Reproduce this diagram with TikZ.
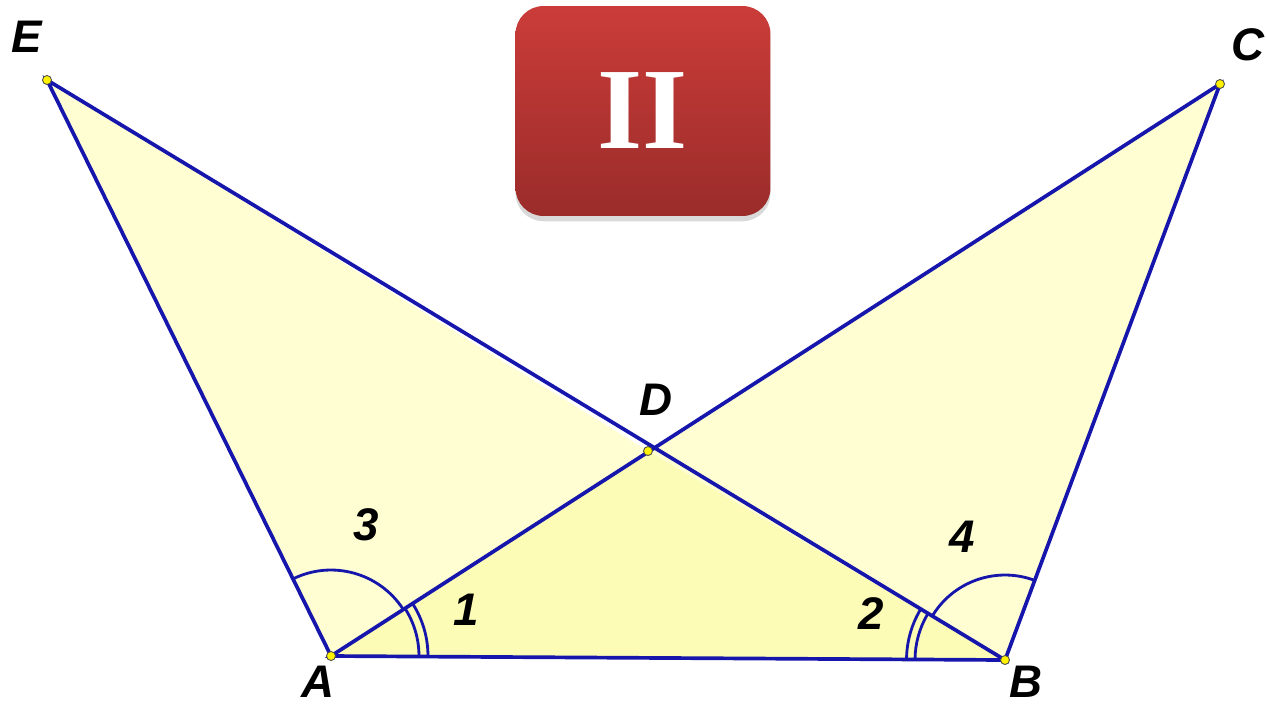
\documentclass[tikz,border=0pt]{standalone}
\usepackage{fontspec}
\setmainfont{Liberation Sans}
\newfontfamily\badgefont{Liberation Serif}
\usepackage{xcolor}
\usetikzlibrary{angles,shadows,calc}

\definecolor{lineblue}{RGB}{22,22,172}
\definecolor{paleyel}{RGB}{254,254,210}
\definecolor{deepyel}{RGB}{252,252,182}
\definecolor{badgetop}{RGB}{203,60,57}
\definecolor{badgebot}{RGB}{154,44,42}

\tikzset{
  pt/.style={circle, fill=yellow, draw=black!70, line width=0.5pt, inner sep=0pt, minimum size=0.18cm},
  lbl/.style={inner sep=0pt, font=\fontsize{26}{26}\selectfont\bfseries\itshape},
  side/.style={draw=lineblue, line width=2.1pt},
  anglemark/.style={draw=lineblue, line width=1.6pt}
}

\begin{document}
\begin{tikzpicture}[x=0.02cm, y=-0.02cm]
    \useasboundingbox (0,0) rectangle (1266,707);
    % points
    \coordinate (E) at (47,80);
    \coordinate (C) at (1220,84);
    \coordinate (D) at (648,451);
    \coordinate (A) at (331,656);
    \coordinate (B) at (1005,660);
    % fills
    \fill[paleyel] (A) -- (E) -- (D) -- cycle;
    \fill[paleyel] (B) -- (C) -- (D) -- cycle;
    \fill[deepyel] (A) -- (B) -- (D) -- cycle;
    % sides
    \draw[side] (A) -- (E) -- (B) -- (C) -- (A) -- (B);
    % angle marks
    \pic[anglemark, angle radius=1.72cm] {angle = D--A--E};
    \pic[anglemark, angle radius=1.76cm] {angle = B--A--D};
    \pic[anglemark, angle radius=1.94cm] {angle = B--A--D};
    \pic[anglemark, angle radius=1.70cm] {angle = C--B--D};
    \pic[anglemark, angle radius=1.80cm] {angle = D--B--A};
    \pic[anglemark, angle radius=1.97cm] {angle = D--B--A};
    % dots
    \foreach \p in {A,B,C,D,E}
        \node[pt] (dot\p) at (\p) {};
    % labels
    \node[lbl] (lE) at (27,37) {E};
    \node[lbl] (lC) at (1248,45) {C};
    \node[lbl] (lD) at (656,400) {D};
    \node[lbl] (lA) at (318,682) {A};
    \node[lbl] (lB) at (1026,682) {B};
    \node[lbl] (l3) at (366,525) {3};
    \node[lbl] (l1) at (466,610) {1};
    \node[lbl] (l2) at (871,614) {2};
    \node[lbl] (l4) at (962,537) {4};
    % badge
    \node[rounded corners=0.56cm, minimum width=5.1cm, minimum height=4.2cm,
          top color=badgetop, bottom color=badgebot, text=white,
          drop shadow={shadow xshift=0pt, shadow yshift=-3pt, opacity=0.3},
          font=\badgefont\fontsize{66}{66}\selectfont\bfseries] (badge) at (643,111) {II};
\end{tikzpicture}
\end{document}
